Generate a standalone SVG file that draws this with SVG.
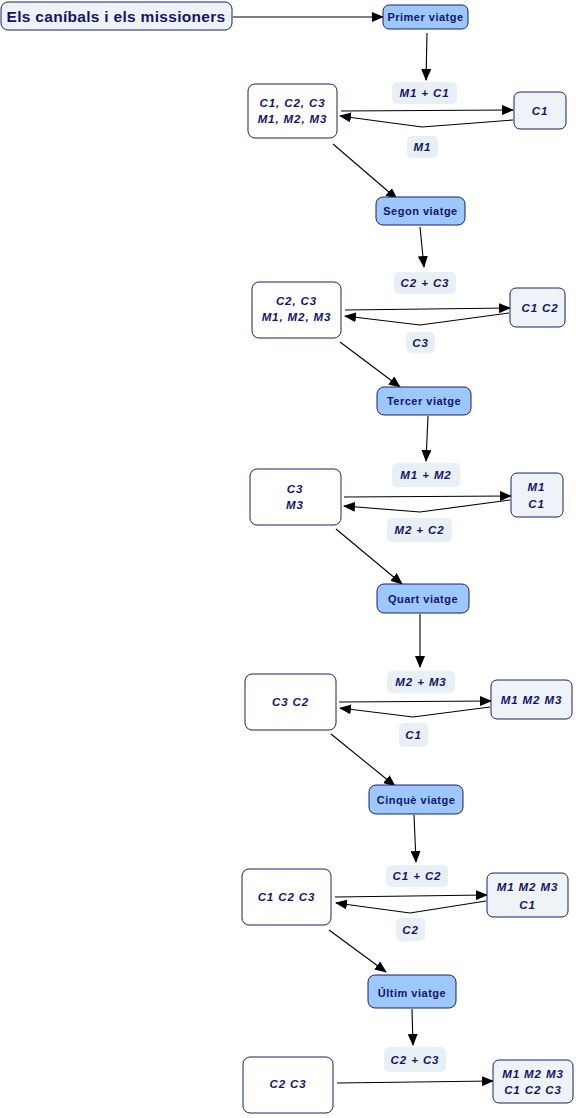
<svg xmlns="http://www.w3.org/2000/svg" width="576" height="1118" viewBox="0 0 576 1118">
<defs>
<marker id="ah" markerUnits="userSpaceOnUse" markerWidth="12" markerHeight="10" refX="11" refY="5" orient="auto">
<path d="M0,0 L12,5 L0,10 Z" fill="#000"/>
</marker>
<style>
.node rect{stroke:#1c1f6b;stroke-width:1}
.state rect{fill:#fff}
.dest rect{fill:#eef3f8}
.trip rect{fill:#9cc8fb}
.lbl rect{fill:#e9f0f5;stroke:none}
text{font-family:"Liberation Sans",Arial,sans-serif;font-weight:bold;fill:#14146e;text-anchor:middle;dominant-baseline:central}
.it{font-style:italic;font-size:11.5px;letter-spacing:0.9px}
.tr{font-size:11px;letter-spacing:0.5px}
#connectors line,#connectors polyline{stroke:#000;stroke-width:1.1;fill:none}
</style>
</defs>
<g id="connectors">
<line x1="233" y1="17" x2="383" y2="17" marker-end="url(#ah)"/>
<line x1="427" y1="33" x2="426" y2="80" marker-end="url(#ah)"/>
<line x1="341" y1="111" x2="513" y2="110" marker-end="url(#ah)"/>
<polyline points="513,120 422,127 340,116" marker-end="url(#ah)"/>
<line x1="333" y1="144" x2="397" y2="199" marker-end="url(#ah)"/>

<line x1="420" y1="227" x2="424" y2="267" marker-end="url(#ah)"/>
<line x1="345" y1="310" x2="510" y2="308" marker-end="url(#ah)"/>
<polyline points="509,313 420,325 345,316" marker-end="url(#ah)"/>
<line x1="340" y1="342" x2="400" y2="387" marker-end="url(#ah)"/>

<line x1="428" y1="416" x2="426" y2="461" marker-end="url(#ah)"/>
<line x1="344" y1="497" x2="511" y2="496" marker-end="url(#ah)"/>
<polyline points="510,500 420,512 344,506" marker-end="url(#ah)"/>
<line x1="336" y1="529" x2="402" y2="584" marker-end="url(#ah)"/>

<line x1="420" y1="614" x2="420" y2="667" marker-end="url(#ah)"/>
<line x1="339" y1="702" x2="491" y2="701" marker-end="url(#ah)"/>
<polyline points="490,707 413,717 340,708" marker-end="url(#ah)"/>
<line x1="331" y1="734" x2="395" y2="786" marker-end="url(#ah)"/>

<line x1="414" y1="815" x2="416" y2="862" marker-end="url(#ah)"/>
<line x1="335" y1="897" x2="487" y2="895" marker-end="url(#ah)"/>
<polyline points="486,901 410,913 336,903" marker-end="url(#ah)"/>
<line x1="329" y1="930" x2="386" y2="972" marker-end="url(#ah)"/>

<line x1="412" y1="1009" x2="413" y2="1045" marker-end="url(#ah)"/>
<line x1="337" y1="1083" x2="493" y2="1081" marker-end="url(#ah)"/>
</g>

<g id="title" class="node dest"><rect x="1" y="2" width="231" height="28" rx="7"/><text x="116" y="16.5" style="font-size:15.5px;letter-spacing:0.3px">Els caníbals i els missioners</text></g>

<g id="trip1" class="node trip"><rect x="383" y="5" width="85" height="24" rx="6"/><text class="tr" x="425.5" y="17">Primer viatge</text></g>
<g id="lbl1a" class="lbl"><rect x="392" y="82" width="65" height="22" rx="5"/><text class="it" x="424.5" y="93">M1 + C1</text></g>
<g id="left1" class="node state"><rect x="248" y="84" width="89" height="54" rx="7"/><text class="it" x="292.5" y="103">C1, C2, C3</text><text class="it" x="292.5" y="119">M1, M2, M3</text></g>
<g id="right1" class="node dest"><rect x="514" y="92" width="52" height="37" rx="6"/><text class="it" x="540" y="110.5">C1</text></g>
<g id="lbl1b" class="lbl"><rect x="407" y="136" width="31" height="22" rx="5"/><text class="it" x="422.5" y="147">M1</text></g>

<g id="trip2" class="node trip"><rect x="376" y="197" width="89" height="28" rx="7"/><text class="tr" x="420.5" y="211">Segon viatge</text></g>
<g id="lbl2a" class="lbl"><rect x="394" y="272" width="62" height="22" rx="5"/><text class="it" x="425" y="283">C2 + C3</text></g>
<g id="left2" class="node state"><rect x="252" y="282" width="89" height="56" rx="7"/><text class="it" x="296.5" y="301">C2, C3</text><text class="it" x="296.5" y="317">M1, M2, M3</text></g>
<g id="right2" class="node dest"><rect x="510" y="288" width="55" height="39" rx="6"/><text class="it" x="540" y="308">C1 C2</text></g>
<g id="lbl2b" class="lbl"><rect x="406" y="332" width="29" height="21" rx="5"/><text class="it" x="420.5" y="342.5">C3</text></g>

<g id="trip3" class="node trip"><rect x="377" y="387" width="94" height="28" rx="7"/><text class="tr" x="424" y="400.5">Tercer viatge</text></g>
<g id="lbl3a" class="lbl"><rect x="392" y="463" width="68" height="24" rx="5"/><text class="it" x="426" y="475">M1 + M2</text></g>
<g id="left3" class="node state"><rect x="250" y="469" width="91" height="56" rx="7"/><text class="it" x="295" y="489">C3</text><text class="it" x="295" y="505">M3</text></g>
<g id="right3" class="node dest"><rect x="511" y="473" width="52" height="44" rx="6"/><text class="it" x="536.5" y="487">M1</text><text class="it" x="536.5" y="504">C1</text></g>
<g id="lbl3b" class="lbl"><rect x="387" y="518" width="65" height="24" rx="5"/><text class="it" x="419.5" y="530">M2 + C2</text></g>

<g id="trip4" class="node trip"><rect x="377" y="584" width="92" height="29" rx="7"/><text class="tr" x="423" y="598.5">Quart viatge</text></g>
<g id="lbl4a" class="lbl"><rect x="387" y="671" width="68" height="22" rx="5"/><text class="it" x="421" y="682">M2 + M3</text></g>
<g id="left4" class="node state"><rect x="245" y="674" width="91" height="56" rx="7"/><text class="it" x="290.5" y="702">C3 C2</text></g>
<g id="right4" class="node dest"><rect x="491" y="680" width="81" height="39" rx="6"/><text class="it" x="531.5" y="700">M1 M2 M3</text></g>
<g id="lbl4b" class="lbl"><rect x="399" y="723" width="29" height="24" rx="5"/><text class="it" x="413.5" y="735">C1</text></g>

<g id="trip5" class="node trip"><rect x="369" y="785" width="94" height="29" rx="7"/><text class="tr" x="416" y="799.5">Cinquè viatge</text></g>
<g id="lbl5a" class="lbl"><rect x="386" y="865" width="62" height="22" rx="5"/><text class="it" x="417" y="876">C1 + C2</text></g>
<g id="left5" class="node state"><rect x="242" y="869" width="89" height="56" rx="7"/><text class="it" x="286.5" y="897">C1 C2 C3</text></g>
<g id="right5" class="node dest"><rect x="487" y="873" width="81" height="44" rx="6"/><text class="it" x="527.5" y="887">M1 M2 M3</text><text class="it" x="527.5" y="905">C1</text></g>
<g id="lbl5b" class="lbl"><rect x="396" y="918" width="29" height="23" rx="5"/><text class="it" x="410.5" y="929.5">C2</text></g>

<g id="trip6" class="node trip"><rect x="368" y="975" width="88" height="33" rx="7"/><text class="tr" x="412" y="993">Últim viatge</text></g>
<g id="lbl6a" class="lbl"><rect x="384" y="1047" width="62" height="25" rx="5"/><text class="it" x="415" y="1059.5">C2 + C3</text></g>
<g id="left6" class="node state"><rect x="243" y="1057" width="90" height="56" rx="7"/><text class="it" x="288" y="1084">C2 C3</text></g>
<g id="right6" class="node dest"><rect x="493" y="1060" width="80" height="43" rx="6"/><text class="it" x="533" y="1074">M1 M2 M3</text><text class="it" x="533" y="1090">C1 C2 C3</text></g>
</svg>
